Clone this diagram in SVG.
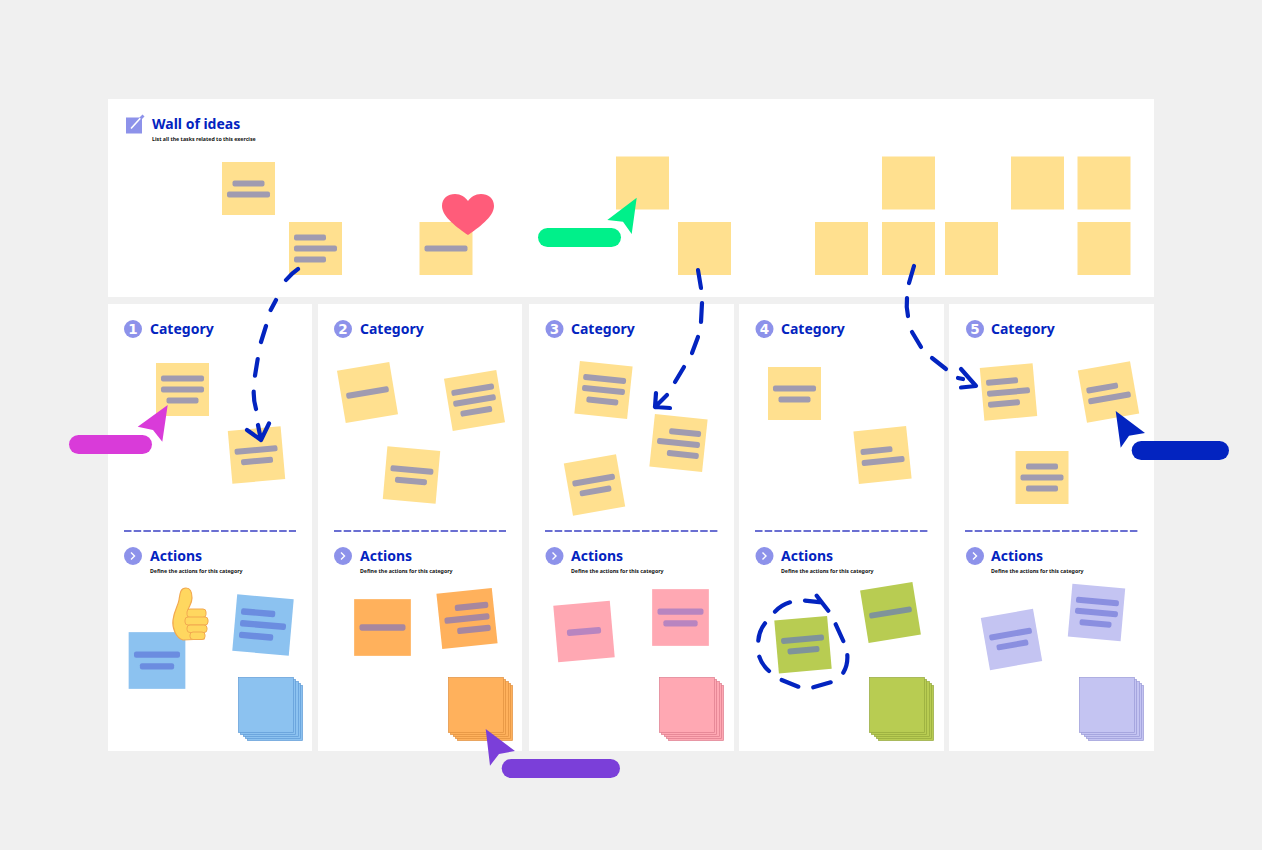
<svg xmlns="http://www.w3.org/2000/svg" width="1262" height="850" viewBox="0 0 1262 850">
<style>
.panel{fill:#fff}
.t{font-family:"Noto Sans","Open Sans",sans-serif;font-weight:700;font-size:14px;fill:#0324c0}
.s{font-family:"Noto Sans","Open Sans",sans-serif;font-weight:700;font-size:5.25px;fill:#111}
.num{font-family:"DejaVu Sans",sans-serif;font-weight:700;font-size:13.5px;fill:#fff;text-anchor:middle}
.ic{fill:#8d92ea}
.chev{fill:none;stroke:#fff;stroke-width:1.4}
.div{fill:none;stroke:#3a40c4;stroke-width:1.4;stroke-dasharray:7.5 2.2}
.y{fill:#ffe08f}.y .b{fill:#a09bb0}
.bl{fill:#8cc2f0}.bl .b{fill:#6b8de0}
.or{fill:#ffb15c}.or .b{fill:#a7879f}
.pk{fill:#ffa8b3}.pk .b{fill:#b885c0}
.gr{fill:#b8cc52}.gr .b{fill:#7f939a}
.pu{fill:#c4c4f2}.pu .b{fill:#8a8fe0}
.st{stroke-width:.7}
.bl.st{stroke:#5f9ad6}.or.st{stroke:#e0913f}.pk.st{stroke:#dd7d8d}.gr.st{stroke:#95a83c}.pu.st{stroke:#9b9bd8}
.dash{fill:none;stroke:#0324c0;stroke-width:4.2;stroke-linecap:round;stroke-linejoin:round}
</style>
<defs>
<rect id="p" x="-26.5" y="-26.5" width="53" height="53"/>
<rect id="L" x="-21.5" y="-3" width="43" height="6" rx="2"/>
<rect id="S" x="-16" y="-3" width="32" height="6" rx="2"/>
<g id="stack">
<rect x="9" y="8" width="55" height="55"/><rect x="7" y="6" width="55" height="55"/><rect x="5" y="4" width="55" height="55"/><rect x="2" y="2" width="55" height="55"/><rect x="0" y="0" width="55" height="55"/>
</g>
</defs>
<rect width="1262" height="850" fill="#f0f0f0"/>
<g id="panels">
<rect class="panel" x="108" y="99" width="1046" height="198"/>
<rect class="panel" x="108" y="304" width="204" height="447"/>
<rect class="panel" x="318" y="304" width="204" height="447"/>
<rect class="panel" x="529" y="304" width="205" height="447"/>
<rect class="panel" x="739" y="304" width="205" height="447"/>
<rect class="panel" x="949" y="304" width="205" height="447"/>
</g>
<g id="wall-header">
<rect class="ic" x="126" y="117.500" width="16" height="16"/>
<path d="M131 128.500 L141 117.500" fill="none" stroke="#fff" stroke-width="1.6"/>
<path d="M139.500 117.500 L142.500 114.500 L144.500 116.500 L141.500 119.500Z" fill="#8d92ea"/>
<text class="t" x="152" y="129">Wall of ideas</text>
<text class="s" x="152" y="140.500">List all the tasks related to this exercise</text>
</g>
<g id="headers">
<circle class="ic" cx="133" cy="329" r="9"/><text class="num" x="133" y="334">1</text><text class="t" x="150" y="334">Category</text>
<circle class="ic" cx="343" cy="329" r="9"/><text class="num" x="343" y="334">2</text><text class="t" x="360" y="334">Category</text>
<circle class="ic" cx="554.500" cy="329" r="9"/><text class="num" x="554.500" y="334">3</text><text class="t" x="571" y="334">Category</text>
<circle class="ic" cx="764.500" cy="329" r="9"/><text class="num" x="764.500" y="334">4</text><text class="t" x="781" y="334">Category</text>
<circle class="ic" cx="975" cy="329" r="9"/><text class="num" x="975" y="334">5</text><text class="t" x="991" y="334">Category</text>
<path class="div" d="M124 531H296M334 531H506M545 531H718M755 531H928M965 531H1138"/>
<circle class="ic" cx="133" cy="556" r="9"/><path class="chev" d="M131 552.500l3.500 3.500-3.500 3.500"/><text class="t" x="150" y="561">Actions</text><text class="s" x="150" y="572.500">Define the actions for this category</text>
<circle class="ic" cx="343" cy="556" r="9"/><path class="chev" d="M341 552.500l3.500 3.500-3.500 3.500"/><text class="t" x="360" y="561">Actions</text><text class="s" x="360" y="572.500">Define the actions for this category</text>
<circle class="ic" cx="554.500" cy="556" r="9"/><path class="chev" d="M552.500 552.500l3.500 3.500-3.500 3.500"/><text class="t" x="571" y="561">Actions</text><text class="s" x="571" y="572.500">Define the actions for this category</text>
<circle class="ic" cx="764.500" cy="556" r="9"/><path class="chev" d="M762.500 552.500l3.500 3.500-3.500 3.500"/><text class="t" x="781" y="561">Actions</text><text class="s" x="781" y="572.500">Define the actions for this category</text>
<circle class="ic" cx="975" cy="556" r="9"/><path class="chev" d="M973 552.500l3.500 3.500-3.500 3.500"/><text class="t" x="991" y="561">Actions</text><text class="s" x="991" y="572.500">Define the actions for this category</text>
</g>
<g id="w1" class="y" transform="translate(248.500 188.500)"><use href="#p"/><use class="b" href="#S" y="-5"/><use class="b" href="#L" y="6"/></g>
<g id="w2" class="y" transform="translate(315.500 248.500)"><use href="#p"/><use class="b" href="#S" x="-5.500" y="-11"/><use class="b" href="#L"/><use class="b" href="#S" x="-5.500" y="11"/></g>
<g id="w3" class="y" transform="translate(446 248.500)"><use href="#p"/><use class="b" href="#L"/></g>
<g id="w4" class="y" transform="translate(642.500 183)"><use href="#p"/></g>
<g id="w5" class="y" transform="translate(704.500 248.500)"><use href="#p"/></g>
<g id="w6" class="y" transform="translate(908.500 183)"><use href="#p"/></g>
<g id="w7" class="y" transform="translate(1037.500 183)"><use href="#p"/></g>
<g id="w8" class="y" transform="translate(1104 183)"><use href="#p"/></g>
<g id="w9" class="y" transform="translate(841.500 248.500)"><use href="#p"/></g>
<g id="w10" class="y" transform="translate(908.500 248.500)"><use href="#p"/></g>
<g id="w11" class="y" transform="translate(971.500 248.500)"><use href="#p"/></g>
<g id="w12" class="y" transform="translate(1104 248.500)"><use href="#p"/></g>

<g id="c1a" class="y" transform="translate(182.500 389.500)"><use href="#p"/><use class="b" href="#L" y="-11"/><use class="b" href="#L"/><use class="b" href="#S" y="11"/></g>
<g id="c1b" class="y" transform="translate(256.500 455) rotate(-5)"><use href="#p"/><use class="b" href="#L" y="-5"/><use class="b" href="#S" y="6"/></g>
<g id="c2a" class="y" transform="translate(367.500 392.500) rotate(-9.500)"><use href="#p"/><use class="b" href="#L"/></g>
<g id="c2b" class="y" transform="translate(474.500 400.500) rotate(-9.500)"><use href="#p"/><use class="b" href="#L" y="-11"/><use class="b" href="#L"/><use class="b" href="#S" y="11"/></g>
<g id="c2c" class="y" transform="translate(411.500 475) rotate(5)"><use href="#p"/><use class="b" href="#L" y="-5"/><use class="b" href="#S" y="6"/></g>
<g id="c3a" class="y" transform="translate(603.500 390) rotate(6)"><use href="#p"/><use class="b" href="#L" y="-11"/><use class="b" href="#L"/><use class="b" href="#S" y="11"/></g>
<g id="c3b" class="y" transform="translate(678.500 443) rotate(6)"><use href="#p"/><use class="b" href="#S" x="5.500" y="-11"/><use class="b" href="#L"/><use class="b" href="#S" x="5.500" y="11"/></g>
<g id="c3c" class="y" transform="translate(594.500 485) rotate(-10)"><use href="#p"/><use class="b" href="#L" y="-5"/><use class="b" href="#S" y="6"/></g>
<g id="c4a" class="y" transform="translate(794.500 393.500)"><use href="#p"/><use class="b" href="#L" y="-5"/><use class="b" href="#S" y="6"/></g>
<g id="c4b" class="y" transform="translate(882.500 455) rotate(-6)"><use href="#p"/><use class="b" href="#S" x="-5.500" y="-5"/><use class="b" href="#L" y="6"/></g>
<g id="c5a" class="y" transform="translate(1008.500 392) rotate(-5)"><use href="#p"/><use class="b" href="#S" x="-5.500" y="-11"/><use class="b" href="#L"/><use class="b" href="#S" x="-5.500" y="11"/></g>
<g id="c5b" class="y" transform="translate(1108.500 392) rotate(-10)"><use href="#p"/><use class="b" href="#S" x="-5.500" y="-5"/><use class="b" href="#L" y="6"/></g>
<g id="c5c" class="y" transform="translate(1042 477.500)"><use href="#p"/><use class="b" href="#S" y="-11"/><use class="b" href="#L"/><use class="b" href="#S" y="11"/></g>

<g id="a1a" class="bl" transform="translate(157 660.500) scale(1.07)"><use href="#p"/><use class="b" href="#L" y="-5.500"/><use class="b" href="#S" y="5.500"/></g>
<g id="a1b" class="bl" transform="translate(263 625) rotate(5) scale(1.07)"><use href="#p"/><use class="b" href="#S" x="-5.500" y="-11"/><use class="b" href="#L"/><use class="b" href="#S" x="-5.500" y="11"/></g>
<g id="a1c" class="bl st" transform="translate(238.500 677.500)"><use href="#stack"/></g>
<g id="a2a" class="or" transform="translate(382.500 627.500) scale(1.07)"><use href="#p"/><use class="b" href="#L"/></g>
<g id="a2b" class="or" transform="translate(467 618.500) rotate(-6) scale(1.05)"><use href="#p"/><use class="b" href="#S" x="5.500" y="-11"/><use class="b" href="#L"/><use class="b" href="#S" x="5.500" y="11"/></g>
<g id="a2c" class="or st" transform="translate(448.500 677.500)"><use href="#stack"/></g>
<g id="a3a" class="pk" transform="translate(584 631.500) rotate(-5) scale(1.07)"><use href="#p"/><use class="b" href="#S"/></g>
<g id="a3b" class="pk" transform="translate(680.500 617.500) scale(1.07)"><use href="#p"/><use class="b" href="#L" y="-5.500"/><use class="b" href="#S" y="5.500"/></g>
<g id="a3c" class="pk st" transform="translate(659.500 677.500)"><use href="#stack"/></g>
<g id="a4a" class="gr" transform="translate(803 644.700) rotate(-5)"><use href="#p"/><use class="b" href="#L" y="-5.500"/><use class="b" href="#S" y="5.500"/></g>
<g id="a4b" class="gr" transform="translate(890.500 612.500) rotate(-9.200)"><use href="#p"/><use class="b" href="#L"/></g>
<g id="a4c" class="gr st" transform="translate(869.500 677.500)"><use href="#stack"/></g>
<g id="a5a" class="pu" transform="translate(1011.500 639.500) rotate(-10)"><use href="#p"/><use class="b" href="#L" y="-5.500"/><use class="b" href="#S" y="5.500"/></g>
<g id="a5b" class="pu" transform="translate(1096.500 612.500) rotate(5)"><use href="#p"/><use class="b" href="#L" y="-11"/><use class="b" href="#L"/><use class="b" href="#S" y="11"/></g>
<g id="a5c" class="pu st" transform="translate(1079.500 677.500)"><use href="#stack"/></g>

<g id="heart"><path d="M468 235 C458 228 442 217 442 206 C442 198 448 194 455 194 C461 194 465 197 468 201 C471 197 475 194 481 194 C488 194 494 198 494 206 C494 217 478 228 468 235Z" fill="#ff5c7a"/></g>
<g id="thumb">
<path d="M183 640 C176 638 172 628 173 620 C174 611 178 606 179 600 C180 594 180 588 186 588 C191 588 192 593 192 598 C192 603 189 606 188 610 L204 610 L204 639 Z" fill="#ffd75f" stroke="#f2a950" stroke-width="1.2"/>
<rect x="187" y="609" width="19" height="8.500" rx="3" fill="#ffd75f" stroke="#f2a950"/>
<rect x="185" y="617" width="23" height="8" rx="3" fill="#ffd75f" stroke="#f2a950"/>
<rect x="187" y="625" width="20" height="7.500" rx="3" fill="#ffd75f" stroke="#f2a950"/>
<rect x="190" y="632" width="15" height="7.500" rx="3" fill="#ffd75f" stroke="#f2a950"/>
</g>
<g id="connectors">
<path class="dash" d="M298 269Q292 273 286 280M276 300L270.700 310M266 326L261 342M257.700 359L255 375.700M253.700 391.700Q253.500 400 256 409M247 430L261 440 269 423.500M258 425L261 440"/>
<path class="dash" d="M698 270L701 288M702 303L701 322M698 337L692 353M684 367L675 382M656 393L655 407 670 408M667 395L655 407"/>
<path class="dash" d="M914 266L909 283M907 298Q906 307 908 316M912 332L921 347M932 358L946 369M958 378L963 379M961 369L976 386 961 387.500"/>
<path class="dash" d="M775 611.700Q781 605 790 602.300M805 600.700L821.700 602.300M816.700 595.700L821.700 602.300 828.300 610.700M835.700 624.300L843.300 641M847.300 655Q848 665 843.300 672.700M830.700 682.300L813.300 687.300M798.300 686.700L781.700 680M769 671Q762 665 759.300 656.700M758.300 640.700Q759 631 765 623.300"/>
</g>
<g id="cursor-magenta" fill="#d93bd9"><path d="M167.700 405L137.700 426.700 153 430 162.300 441.700Z"/><rect x="69" y="435" width="83" height="19" rx="9.500"/></g>
<g id="cursor-green" fill="#00f08a"><path d="M636.700 197.700L607.300 220 623 221.700 631.700 234Z"/><rect x="538" y="228" width="83" height="19" rx="9.500"/></g>
<g id="cursor-purple" fill="#7b3fd9"><path d="M485.700 729L515 751 499 754 490 765.700Z"/><rect x="501.700" y="759" width="118.300" height="19" rx="9.500"/></g>
<g id="cursor-blue" fill="#0324c0"><path d="M1115.700 411L1145 433 1129 435.700 1120.700 447.700Z"/><rect x="1131.700" y="441" width="97.300" height="19" rx="9.500"/></g>
</svg>
